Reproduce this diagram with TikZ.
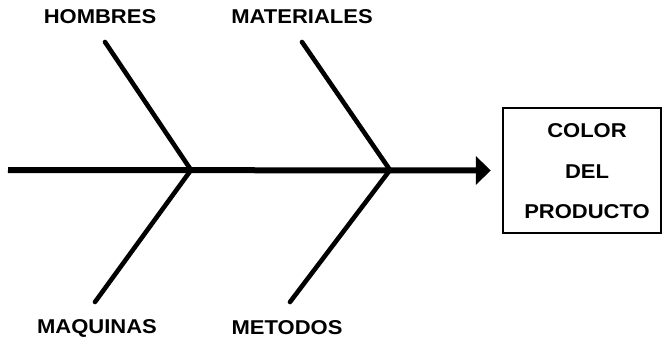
\documentclass[tikz,border=0pt]{standalone}
\usepackage{fontspec}
\setmainfont{Liberation Sans}[FakeStretch=1.1]
\usetikzlibrary{arrows.meta}
\begin{document}
\begin{tikzpicture}[x=1pt,y=-1pt,
  lab/.style={font=\fontsize{20}{23}\selectfont\bfseries, inner sep=0pt, anchor=center},
  bone/.style={line width=4.6pt, line cap=round},
  spine/.style={line width=6pt, -{Triangle[length=15pt,width=28pt]}, shorten >=11pt},
  effbox/.style={draw, line width=2.4pt, minimum width=158pt, minimum height=125pt, inner sep=0pt}]
\useasboundingbox (0,0) rectangle (663,339);
% effect box
\node[effbox] (efecto) at (582,170.5) {};
\node[lab] (t1) at (587,131) {COLOR};
\node[lab] (t2) at (587,172) {DEL};
\node[lab] (t3) at (587,212) {PRODUCTO};
% junctions
\coordinate (tail) at (8,170);
\coordinate (j1) at (191,170);
\coordinate (j2) at (390,170);
\coordinate (h) at (105,42);
\coordinate (m) at (302,42);
\coordinate (q) at (95,302);
\coordinate (d) at (290,302);
% labels
\node[lab] (hombres) at (100,17) {HOMBRES};
\node[lab] (materiales) at (302,17) {MATERIALES};
\node[lab] (maquinas) at (97,328) {MAQUINAS};
\node[lab] (metodos) at (287,328) {METODOS};
% bones
\draw[bone] (h) -- (j1) -- (q);
\draw[bone] (m) -- (j2) -- (d);
% spine
\draw[spine] (tail) -- (efecto.west);
\end{tikzpicture}
\end{document}
